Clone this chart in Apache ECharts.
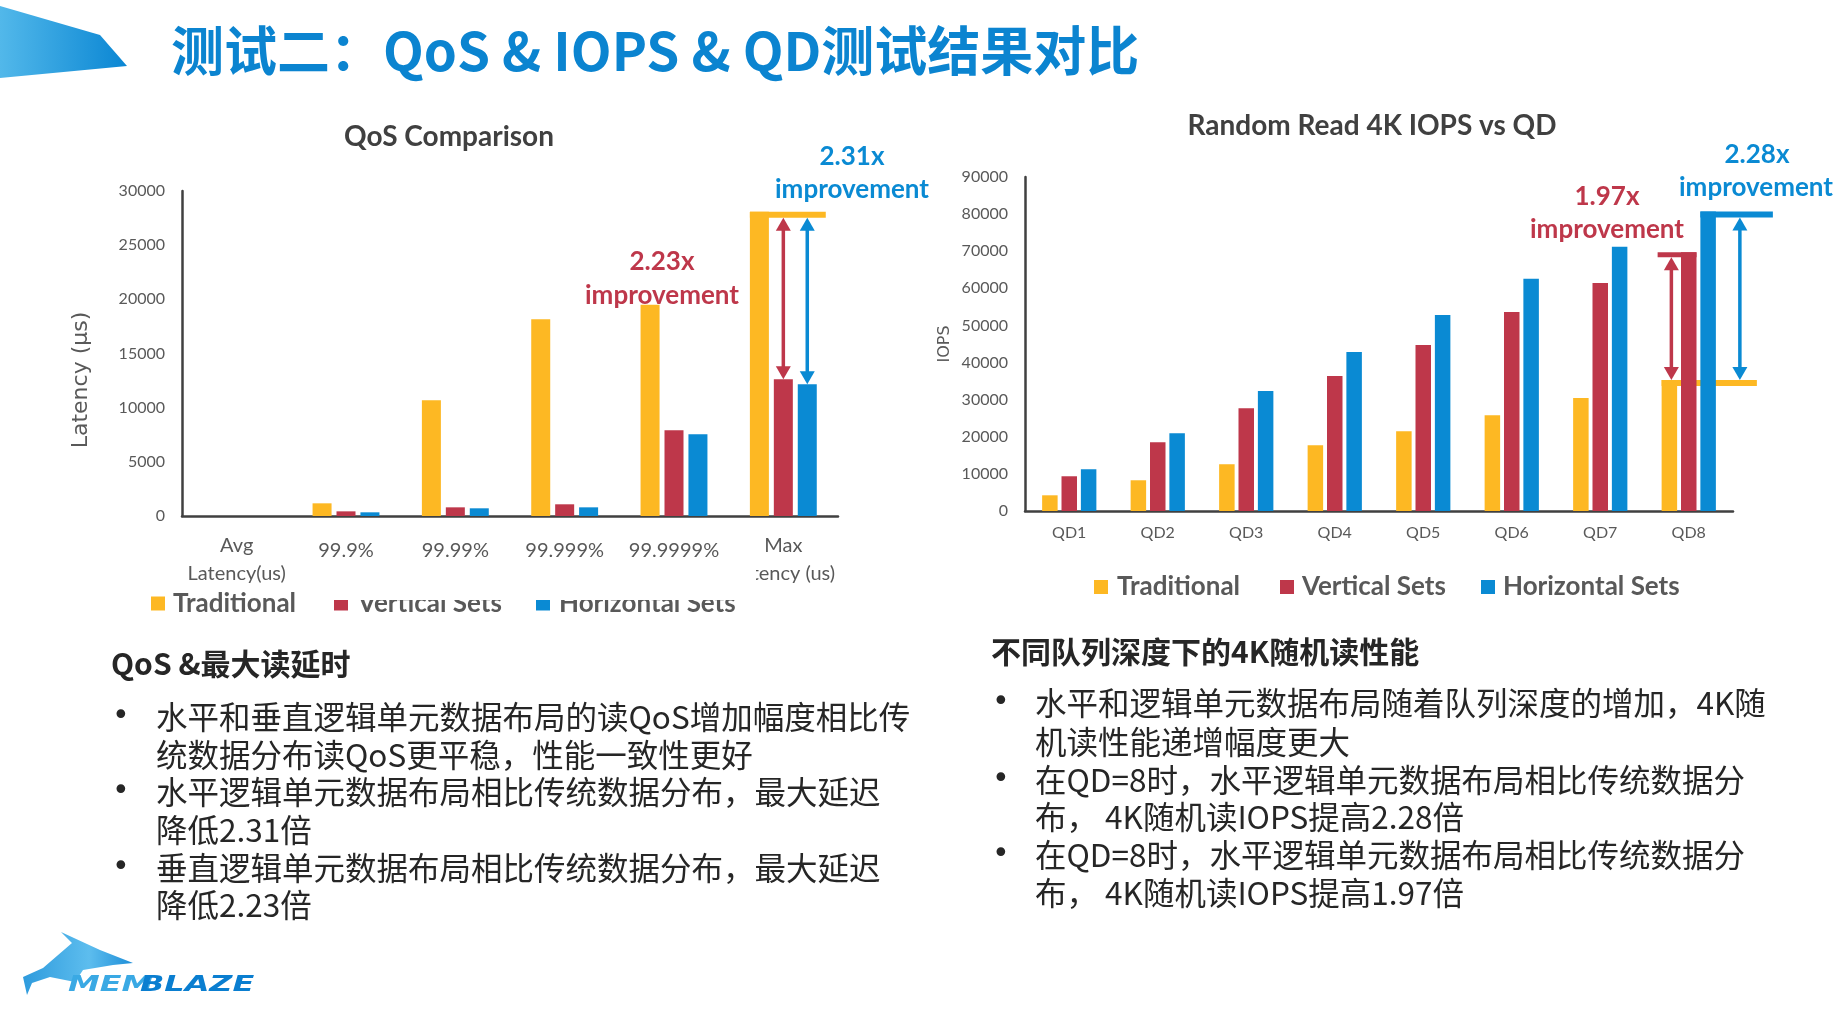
<!DOCTYPE html>
<html><head><meta charset="utf-8">
<script src="https://cdn.jsdelivr.net/npm/echarts@6/dist/echarts.min.js"></script>
<style>html,body{margin:0;padding:0;background:#fff}#c{width:1847px;height:1014px}</style>
</head><body><div id="c"></div>
<script>
// ---- data ----
const qosCategories = ['Avg\nLatency(us)', '99.9%', '99.99%', '99.999%', '99.9999%', 'Max\nLatency (us)'];
const qosTraditional = [0, 1170, 10690, 18170, 19500, 28090];
const qosVertical = [0, 430, 800, 1080, 7920, 12630];
const qosHorizontal = [0, 340, 710, 800, 7550, 12170];

const qdCategories = ['QD1', 'QD2', 'QD3', 'QD4', 'QD5', 'QD6', 'QD7', 'QD8'];
const qdTraditional = [4230, 8280, 12600, 17730, 21510, 25830, 30420, 35300];
const qdVertical = [9360, 18540, 27720, 36360, 44730, 53640, 61470, 69700];
const qdHorizontal = [11250, 20970, 32310, 42840, 52830, 62550, 71190, 80700];

const seriesNames = ['Traditional', 'Vertical Sets', 'Horizontal Sets'];
const colors = ['#FDB823', '#BE374A', '#0A8AD3'];

const LBW = 19, LGAP = 0.26, RBW = 15.5, RGAP = 0.25;
const LAT = 'Lato', GRAY = '#595959', DARK = '#404040';

const chart = echarts.init(document.getElementById('c'));

function xLabelFmt(v) {
  if (v.indexOf('\n') >= 0) return v.split('\n').map(s => '{m|' + s + '}').join('\n');
  return '{s|' + v + '}';
}
const plain = v => String(v);

const option = {
  animation: false,
  backgroundColor: '#ffffff',
  color: colors,
  grid: [
    { left: 182, top: 191, width: 656, height: 325 },
    { left: 1025, top: 177, width: 708, height: 334 }
  ],
  xAxis: [
    { type: 'category', gridIndex: 0, data: qosCategories,
      axisLine: { lineStyle: { color: DARK, width: 2.5 } }, axisTick: { show: false },
      axisLabel: { interval: 0, margin: 16, formatter: xLabelFmt,
        rich: { m: { fontFamily: LAT, fontSize: 20, color: GRAY, lineHeight: 28 },
                s: { fontFamily: LAT, fontSize: 20, color: GRAY, lineHeight: 28, padding: [9, 0, 0, 0] } } } },
    { type: 'category', gridIndex: 1, data: qdCategories,
      axisLine: { lineStyle: { color: DARK, width: 2.5 } }, axisTick: { show: false },
      axisLabel: { interval: 0, margin: 14, fontFamily: LAT, fontSize: 16, color: GRAY } }
  ],
  yAxis: [
    { type: 'value', gridIndex: 0, min: 0, max: 30000, interval: 5000,
      axisLine: { show: true, lineStyle: { color: DARK, width: 2.5 } }, axisTick: { show: false },
      splitLine: { show: false },
      axisLabel: { margin: 17, fontFamily: LAT, fontSize: 16, color: GRAY, formatter: plain } },
    { type: 'value', gridIndex: 1, min: 0, max: 90000, interval: 10000,
      axisLine: { show: true, lineStyle: { color: DARK, width: 2.5 } }, axisTick: { show: false },
      splitLine: { show: false },
      axisLabel: { margin: 17, fontFamily: LAT, fontSize: 16, color: GRAY, formatter: plain },
      name: 'IOPS', nameLocation: 'middle', nameRotate: 90, nameGap: 72,
      nameTextStyle: { fontFamily: 'DejaVu Sans', fontSize: 16, color: GRAY } }
  ],
  series: [
    { name: seriesNames[0], type: 'bar', xAxisIndex: 0, yAxisIndex: 0, data: qosTraditional, barWidth: LBW, barGap: (LGAP * 100) + '%', itemStyle: { color: colors[0] } },
    { name: seriesNames[1], type: 'bar', xAxisIndex: 0, yAxisIndex: 0, data: qosVertical, barWidth: LBW, barGap: (LGAP * 100) + '%', itemStyle: { color: colors[1] } },
    { name: seriesNames[2], type: 'bar', xAxisIndex: 0, yAxisIndex: 0, data: qosHorizontal, barWidth: LBW, barGap: (LGAP * 100) + '%', itemStyle: { color: colors[2] } },
    { name: seriesNames[0], type: 'bar', xAxisIndex: 1, yAxisIndex: 1, data: qdTraditional, barWidth: RBW, barGap: (RGAP * 100) + '%', itemStyle: { color: colors[0] } },
    { name: seriesNames[1], type: 'bar', xAxisIndex: 1, yAxisIndex: 1, data: qdVertical, barWidth: RBW, barGap: (RGAP * 100) + '%', itemStyle: { color: colors[1] } },
    { name: seriesNames[2], type: 'bar', xAxisIndex: 1, yAxisIndex: 1, data: qdHorizontal, barWidth: RBW, barGap: (RGAP * 100) + '%', itemStyle: { color: colors[2] } }
  ]
};
chart.setOption(option);

// ---- overlay graphics ----
const g = [];
function P(gi, cat, val) { return chart.convertToPixel({ gridIndex: gi }, [cat, val]); }
function txt(text, x, y, font, fill, align, z, extra) {
  const el = { type: 'text', z: z || 30, style: { text: text, x: x, y: y, font: font, fill: fill,
    textAlign: align || 'left', textVerticalAlign: 'middle', align: align || 'left', verticalAlign: 'middle' } };
  if (extra) Object.assign(el, extra);
  g.push(el);
}
function rect(x, y, w, h, fill, z) {
  g.push({ type: 'rect', z: z === undefined ? 0 : z, shape: { x: x, y: y, width: w, height: h }, style: { fill: fill } });
}
function arrow(x, y1, y2, color) {
  const hl = 13, hw = 7.5;
  g.push({ type: 'line', z: 20, shape: { x1: x, y1: y1 + hl - 2, x2: x, y2: y2 - hl + 2 }, style: { stroke: color, lineWidth: 3.5 } });
  g.push({ type: 'polygon', z: 20, shape: { points: [[x, y1], [x - hw, y1 + hl], [x + hw, y1 + hl]] }, style: { fill: color } });
  g.push({ type: 'polygon', z: 20, shape: { points: [[x, y2], [x - hw, y2 - hl], [x + hw, y2 - hl]] }, style: { fill: color } });
}
function legend(squaresX, textsX, cy) {
  seriesNames.forEach((n, i) => {
    rect(squaresX[i], cy - 7, 14, 14, colors[i], 30);
    txt(n, textsX[i], cy, 'bold 26px Lato', GRAY, 'left', 30);
  });
}

// header decoration
g.push({ type: 'polygon', z: 5, shape: { points: [[0, 6], [100, 35], [127, 66], [0, 78]] },
  style: { fill: new echarts.graphic.LinearGradient(0, 0, 1, 0, [{ offset: 0, color: '#52B8EA' }, { offset: 1, color: '#0A86D3' }]) } });
txt('测试二：QoS & IOPS & QD测试结果对比', 171, 51, 'bold 53px "Noto Sans CJK SC"', '#0B84D0', 'left');

// chart titles
txt('QoS Comparison', 449, 137, 'bold 28px Lato', DARK, 'center');
txt('Random Read 4K IOPS vs QD', 1372, 126, 'bold 28px Lato', DARK, 'center');

// left axis name (placed off-centre as in the reference)
txt('Latency (µs)', 81, 380, '22px "DejaVu Sans"', GRAY, 'center', 30, { rotation: Math.PI / 2, x: 81, y: 380, style: { text: 'Latency (µs)', x: 0, y: 0, font: '22px "DejaVu Sans"', fill: GRAY, textAlign: 'center', align: 'center', textVerticalAlign: 'middle', verticalAlign: 'middle' } });

// legends
legend([151, 334, 536], [173, 358, 559], 603.5);
legend([1094, 1280, 1481], [1117, 1302, 1503], 587);

// left chart annotations (Max column)
const lOff = LBW + LBW * LGAP;
const cMax = P(0, 5, 0)[0];
const yTradMax = P(0, 5, qosTraditional[5])[1];
const yVertMax = P(0, 5, qosVertical[5])[1];
const yHorMax = P(0, 5, qosHorizontal[5])[1];
rect(cMax - lOff - LBW / 2, yTradMax, (lOff * 2 + LBW) + 9, 6, colors[0], 1);
arrow(cMax, yTradMax + 6, yVertMax, colors[1]);
arrow(cMax + lOff, yTradMax + 6, yHorMax, colors[2]);
txt('2.31x', 852, 157, 'bold 26px Lato', colors[2], 'center');
txt('improvement', 852, 190, 'bold 26px Lato', colors[2], 'center');
txt('2.23x', 662, 262, 'bold 26px Lato', colors[1], 'center');
txt('improvement', 662, 296, 'bold 26px Lato', colors[1], 'center');

// right chart annotations (QD8)
const rOff = RBW + RBW * RGAP;
const c8 = P(1, 7, 0)[0];
const yT8 = P(1, 7, qdTraditional[7])[1];
const yV8 = P(1, 7, qdVertical[7])[1];
const yH8 = P(1, 7, qdHorizontal[7])[1];
rect(c8 - rOff - RBW / 2, yT8, (c8 + rOff + RBW / 2 + 41) - (c8 - rOff - RBW / 2), 6, colors[0], 1);
rect(c8 - rOff - RBW / 2 - 4, yV8, (c8 + RBW / 2) - (c8 - rOff - RBW / 2 - 4), 5, colors[1], 1);
rect(c8 + rOff - RBW / 2, yH8, RBW + 57, 6, colors[2], 1);
arrow(c8 - rOff + 2, yV8 + 5, yT8, colors[1]);
arrow(c8 + rOff + RBW / 2 + 24, yH8 + 6, yT8, colors[2]);
txt('2.28x', 1757, 155, 'bold 26px Lato', colors[2], 'center');
txt('improvement', 1756, 188, 'bold 26px Lato', colors[2], 'center');
txt('1.97x', 1607, 197, 'bold 26px Lato', colors[1], 'center');
txt('improvement', 1607, 230, 'bold 26px Lato', colors[1], 'center');

// clipping overlays seen in the reference
rect(728, 561, 28, 29, '#ffffff', 100);
rect(330, 576, 422, 24, '#ffffff', 100);

// text blocks
const CJK = '"Noto Sans CJK SC"';
const TXT = '#262626';
txt('QoS &最大读延时', 111, 664, 'bold 30px ' + CJK, TXT, 'left');
const leftLines = ['水平和垂直逻辑单元数据布局的读QoS增加幅度相比传', '统数据分布读QoS更平稳，性能一致性更好',
  '水平逻辑单元数据布局相比传统数据分布，最大延迟', '降低2.31倍', '垂直逻辑单元数据布局相比传统数据分布，最大延迟', '降低2.23倍'];
const leftY = [717, 755, 792, 830, 868, 905];
leftLines.forEach((s, i) => txt(s, 156, leftY[i], '31.5px ' + CJK, TXT, 'left'));
[0, 2, 4].forEach(i => txt('•', 112, leftY[i], '30px "DejaVu Sans"', TXT, 'left'));

txt('不同队列深度下的4K随机读性能', 991, 652, 'bold 30px ' + CJK, TXT, 'left');
const rightLines = ['水平和逻辑单元数据布局随着队列深度的增加，4K随', '机读性能递增幅度更大',
  '在QD=8时，水平逻辑单元数据布局相比传统数据分', '布， 4K随机读IOPS提高2.28倍',
  '在QD=8时，水平逻辑单元数据布局相比传统数据分', '布， 4K随机读IOPS提高1.97倍'];
const rightY = [703, 742, 780, 817, 855, 893];
rightLines.forEach((s, i) => txt(s, 1035, rightY[i], '31.5px ' + CJK, TXT, 'left'));
[0, 2, 4].forEach(i => txt('•', 992, rightY[i], '30px "DejaVu Sans"', TXT, 'left'));

// logo
g.push({ type: 'polygon', z: 5, shape: { points: [[61, 932], [100, 950], [133, 963], [113, 965], [83, 970], [75, 982], [50, 977], [32, 983], [27, 995], [23, 977], [43, 968], [72, 943]] },
  style: { fill: new echarts.graphic.LinearGradient(0, 0, 1, 0, [{ offset: 0, color: '#2E9BDD' }, { offset: 0.6, color: '#5DBDEE' }, { offset: 1, color: '#1E8ED8' }]) } });
g.push({ type: 'text', z: 5, x: 68, y: 985, scaleX: 1.45, style: { text: 'MEM', x: 0, y: 0, font: 'italic bold 22px "DejaVu Sans"', fill: '#3AA9E4', textVerticalAlign: 'middle', verticalAlign: 'middle' } });
g.push({ type: 'text', z: 5, x: 140, y: 985, scaleX: 1.45, style: { text: 'BLAZE', x: 0, y: 0, font: 'italic bold 22px "DejaVu Sans"', fill: '#0A7ED0', textVerticalAlign: 'middle', verticalAlign: 'middle' } });

chart.setOption({ graphic: { elements: g } });
</script>
</body></html>
